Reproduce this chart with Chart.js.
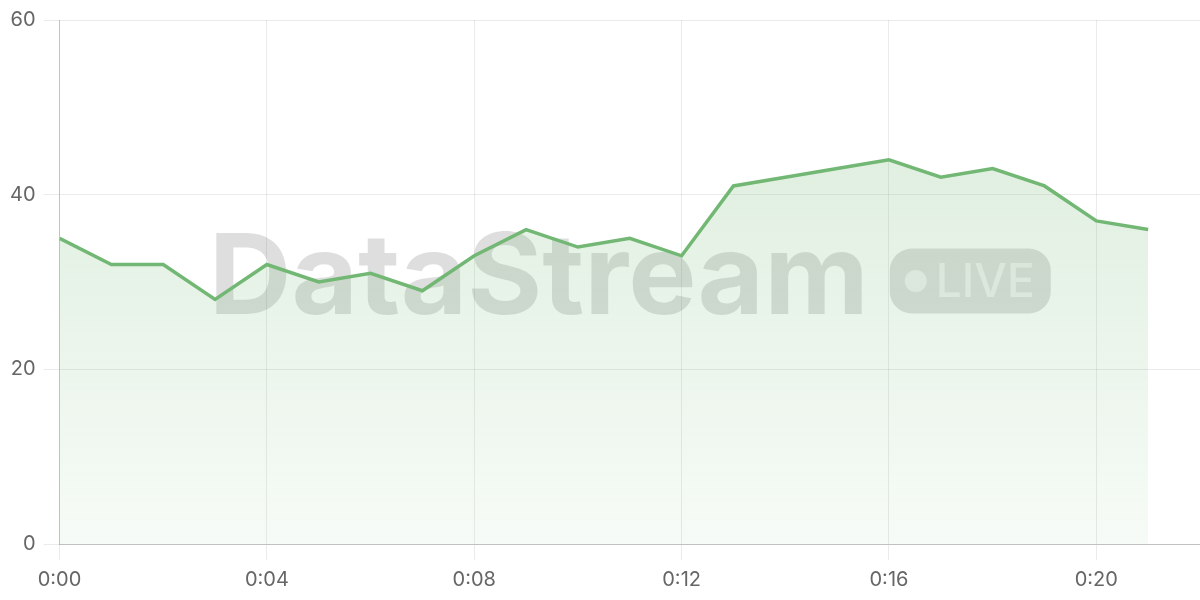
<!DOCTYPE html>
<html lang="en">
<head>
<meta charset="UTF-8" />
<title>DataStream LIVE</title>
<script src="https://cdn.jsdelivr.net/npm/chart.js"></script>
<style>
    html, body { margin: 0; padding: 0; background: #fff; }
    .chart-wrap { width: 1200px; height: 600px; position: relative; }
</style>
</head>
<body>
<div class="chart-wrap"><canvas id="streamChart"></canvas></div>
<script>
    // minutes since start, and the reading at each minute
    const minutes = [0, 1, 2, 3, 4, 5, 6, 7, 8, 9, 10, 11, 12, 13, 14, 15, 16, 17, 18, 19, 20, 21];
    const values = [35, 32, 32, 28, 32, 30, 31, 29, 33, 36, 34, 35, 33, 41, 42, 43, 44, 42, 43, 41, 37, 36];
    const yTicks = [0, 20, 40, 60];

    const lineColor = "rgb(114, 184, 116)";
    Chart.defaults.font.family = "Inter, 'Liberation Sans', sans-serif";

    const watermark = {
        id: "watermark",
        beforeDatasetsDraw(chart) {
            const { ctx, chartArea } = chart;
            const cx = (chartArea.left + chartArea.right) / 2;
            const cy = (chartArea.top + chartArea.bottom) / 2;

            ctx.save();
            ctx.font = "bold 112px Inter, 'Liberation Sans', sans-serif";
            const word = "DataStream";
            const wordW = ctx.measureText(word).width;
            const targetW = 660;
            const pillW = 161, pillH = 65, gap = 21;
            const totalW = targetW + gap + pillW;
            const left = cx - totalW / 2;

            ctx.fillStyle = "rgba(0, 0, 0, 0.13)";
            ctx.textBaseline = "alphabetic";
            ctx.translate(left, cy + 32);
            ctx.scale(targetW / wordW, 1);
            ctx.fillText(word, 0, 0);
            ctx.restore();

            // the LIVE pill
            ctx.save();
            const px = left + targetW + gap;
            const py = cy - pillH / 2 - 1;
            ctx.fillStyle = "rgba(0, 0, 0, 0.13)";
            ctx.beginPath();
            ctx.roundRect(px, py, pillW, pillH, 22);
            ctx.fill();
            ctx.fillStyle = "rgba(255, 255, 255, 0.55)";
            ctx.beginPath();
            ctx.arc(px + 26, py + pillH / 2, 11, 0, Math.PI * 2);
            ctx.fill();
            ctx.font = "500 46px Inter, 'Liberation Sans', sans-serif";
            ctx.textBaseline = "middle";
            ctx.fillText("LIVE", px + 46, py + pillH / 2 + 2);
            ctx.restore();
        },
    };

    const ctx = document.getElementById("streamChart").getContext("2d");

    new Chart(ctx, {
        type: "line",
        data: {
            datasets: [
                {
                    label: "Stream",
                    data: minutes.map((m, i) => ({ x: m, y: values[i] })),
                    borderColor: lineColor,
                    borderWidth: 3.5,
                    pointRadius: 0,
                    tension: 0,
                    fill: "origin",
                    backgroundColor: (context) => {
                        const area = context.chart.chartArea;
                        if (!area) return "rgba(114, 184, 116, 0.15)";
                        const g = context.chart.ctx.createLinearGradient(0, area.top, 0, area.bottom);
                        g.addColorStop(0, "rgba(114, 184, 116, 0.28)");
                        g.addColorStop(1, "rgba(114, 184, 116, 0.06)");
                        return g;
                    },
                },
            ],
        },
        options: {
            responsive: true,
            maintainAspectRatio: false,
            animation: false,
            layout: { padding: { top: 8, right: 0, left: 2, bottom: 0 } },
            plugins: {
                legend: { display: false },
                tooltip: { enabled: false },
            },
            scales: {
                x: {
                    type: "linear",
                    min: 0,
                    max: 22,
                    grid: { color: "rgba(0,0,0,0.08)", tickLength: 16 },
                    border: { color: "rgba(0,0,0,0.18)" },
                    ticks: {
                        stepSize: 4,
                        includeBounds: false,
                        padding: 8,
                        color: "#666",
                        font: { size: 20 },
                        callback: (v) => "0:" + String(v).padStart(2, "0"),
                    },
                },
                y: {
                    min: 0,
                    max: 60,
                    grid: { color: "rgba(0,0,0,0.08)", tickLength: 16 },
                    border: { color: "rgba(0,0,0,0.18)" },
                    afterBuildTicks: (axis) => {
                        axis.ticks = yTicks.map((v) => ({ value: v }));
                    },
                    ticks: {
                        padding: 8,
                        color: "#666",
                        font: { size: 20 },
                    },
                },
            },
        },
        plugins: [watermark],
    });
</script>
</body>
</html>
